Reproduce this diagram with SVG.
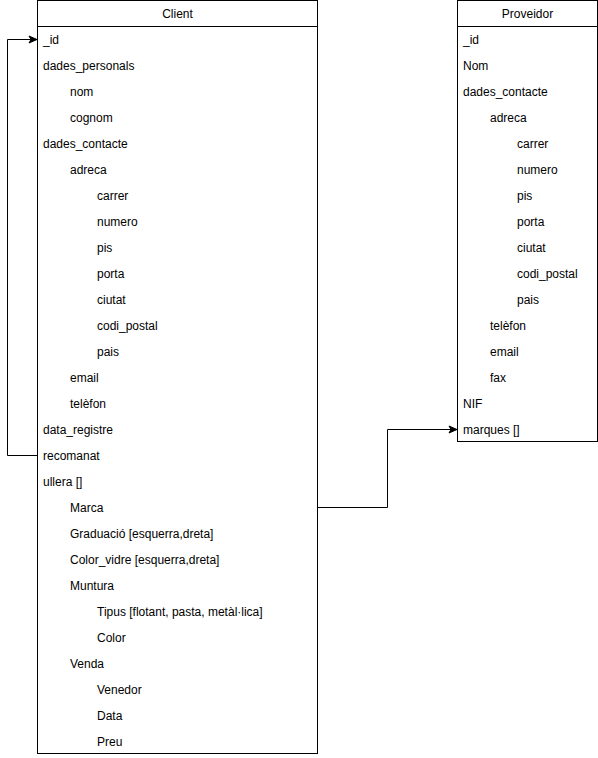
<svg xmlns="http://www.w3.org/2000/svg" width="598" height="758" viewBox="0 0 598 758">
<style>
.box{fill:#fff;stroke:#000;stroke-width:1}
.t{font-family:"Liberation Sans",Arial,sans-serif;font-size:12px;fill:#000}
.h{text-anchor:middle}
.c{fill:none;stroke:#000;stroke-width:1}
</style>
<defs>
<marker id="arr" markerWidth="10" markerHeight="10" refX="9" refY="5" orient="auto" markerUnits="userSpaceOnUse">
<path d="M1,1.5 L9,5 L1,8.5 L3,5 Z" fill="#000" stroke="#000" stroke-width="1"/>
</marker>
</defs>
<rect width="598" height="758" fill="#fff"/>
<g id="client">
<rect class="box" x="37.5" y="0.5" width="280" height="753"/>
<line class="c" x1="37.5" y1="26.5" x2="317.5" y2="26.5"/>
<text class="t h" x="177.5" y="17.5">Client</text>
<text class="t" x="43" y="43.5">_id</text>
<text class="t" x="43" y="69.5">dades_personals</text>
<text class="t" x="70" y="95.5">nom</text>
<text class="t" x="70" y="121.5">cognom</text>
<text class="t" x="43" y="147.5">dades_contacte</text>
<text class="t" x="70" y="173.5">adreca</text>
<text class="t" x="97" y="199.5">carrer</text>
<text class="t" x="97" y="225.5">numero</text>
<text class="t" x="97" y="251.5">pis</text>
<text class="t" x="97" y="277.5">porta</text>
<text class="t" x="97" y="303.5">ciutat</text>
<text class="t" x="97" y="329.5">codi_postal</text>
<text class="t" x="97" y="355.5">pais</text>
<text class="t" x="70" y="381.5">email</text>
<text class="t" x="70" y="407.5">telèfon</text>
<text class="t" x="43" y="433.5">data_registre</text>
<text class="t" x="43" y="459.5">recomanat</text>
<text class="t" x="43" y="485.5">ullera []</text>
<text class="t" x="70" y="511.5">Marca</text>
<text class="t" x="70" y="537.5">Graduació [esquerra,dreta]</text>
<text class="t" x="70" y="563.5">Color_vidre [esquerra,dreta]</text>
<text class="t" x="70" y="589.5">Muntura</text>
<text class="t" x="97" y="615.5">Tipus [flotant, pasta, metàl·lica]</text>
<text class="t" x="97" y="641.5">Color</text>
<text class="t" x="70" y="667.5">Venda</text>
<text class="t" x="97" y="693.5">Venedor</text>
<text class="t" x="97" y="719.5">Data</text>
<text class="t" x="97" y="745.5">Preu</text>
</g>
<g id="proveidor">
<rect class="box" x="457.5" y="0.5" width="140" height="441"/>
<line class="c" x1="457.5" y1="26.5" x2="597.5" y2="26.5"/>
<text class="t h" x="527.5" y="17.5">Proveidor</text>
<text class="t" x="463" y="43.5">_id</text>
<text class="t" x="463" y="69.5">Nom</text>
<text class="t" x="463" y="95.5">dades_contacte</text>
<text class="t" x="490" y="121.5">adreca</text>
<text class="t" x="517" y="147.5">carrer</text>
<text class="t" x="517" y="173.5">numero</text>
<text class="t" x="517" y="199.5">pis</text>
<text class="t" x="517" y="225.5">porta</text>
<text class="t" x="517" y="251.5">ciutat</text>
<text class="t" x="517" y="277.5">codi_postal</text>
<text class="t" x="517" y="303.5">pais</text>
<text class="t" x="490" y="329.5">telèfon</text>
<text class="t" x="490" y="355.5">email</text>
<text class="t" x="490" y="381.5">fax</text>
<text class="t" x="463" y="407.5">NIF</text>
<text class="t" x="463" y="433.5">marques []</text>
</g>
<g id="connectors">
<path class="c" d="M37.5,455.5 H7.5 V39.5 H37" marker-end="url(#arr)"/>
<path class="c" d="M317.5,507.5 H387.5 V429.5 H457" marker-end="url(#arr)"/>
</g>
</svg>
